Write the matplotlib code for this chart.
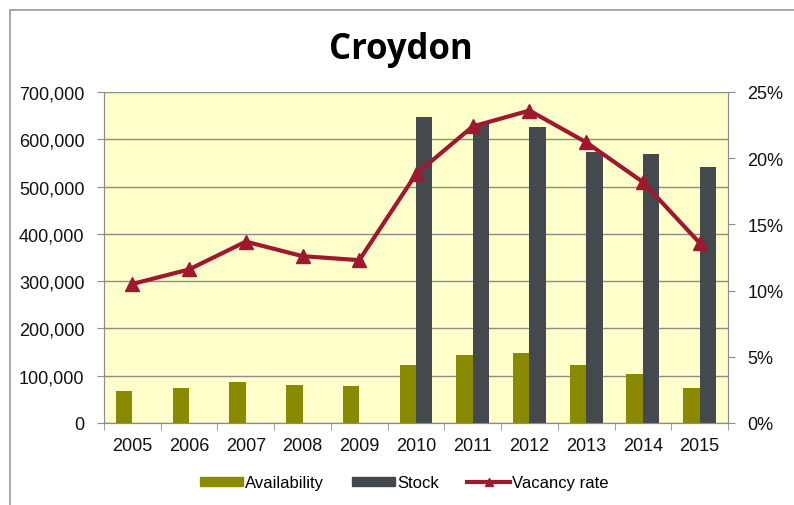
import matplotlib
matplotlib.use("Agg")
import matplotlib.pyplot as plt
from matplotlib.lines import Line2D
from matplotlib.patches import Patch, Rectangle
from matplotlib.ticker import FuncFormatter, MultipleLocator
import numpy as np

plt.rcParams['font.family'] = ['Liberation Sans', 'DejaVu Sans']

years = ['2005', '2006', '2007', '2008', '2009', '2010',
         '2011', '2012', '2013', '2014', '2015']
availability = [67000, 74000, 87000, 81000, 77500, 122500,
                144500, 148000, 122500, 103500, 74000]
stock = [np.nan, np.nan, np.nan, np.nan, np.nan, 648000,
         634000, 625500, 574000, 568000, 542000]
vacancy_rate = [10.5, 11.6, 13.7, 12.6, 12.3, 18.8,
                22.4, 23.6, 21.2, 18.2, 13.6]

c_avail = '#8a8a00'
c_stock = '#44494d'
c_line = '#a0182e'
c_grid = '#8c8c8c'
c_text = '#111111'

fig = plt.figure(figsize=(7.94, 5.06), dpi=100)
fig.patches.append(Rectangle((10 / 794, -0.1), 1.2, 1 - 11 / 506 + 0.1,
                             transform=fig.transFigure, fill=False,
                             edgecolor='#9a9a9a', linewidth=1.2))

ax = fig.add_axes([104 / 794, 82 / 506, 624 / 794, 331 / 506])
ax.set_facecolor('#ffffcc')

x = np.arange(len(years))
w = 0.29
ax.bar(x - w / 2, availability, w, color=c_avail, zorder=3)
ax.bar(x + w / 2, stock, w, color=c_stock, zorder=3)

ax.set_ylim(0, 700000)
ax.set_xlim(-0.5, len(years) - 0.5)
ax.yaxis.set_major_locator(MultipleLocator(100000))
ax.yaxis.set_major_formatter(FuncFormatter(lambda v, p: f'{int(v):,}'))
ax.grid(axis='y', color=c_grid, linewidth=1, zorder=1)
ax.set_xticks(x)
ax.set_xticklabels(years)
ax.set_xticks(np.arange(-0.5, len(years), 1), minor=True)
ax.tick_params(axis='x', which='major', length=0, pad=10, labelsize=13, colors=c_text)
ax.tick_params(axis='x', which='minor', length=5, color=c_grid, direction='out')
ax.tick_params(axis='y', length=5, color=c_grid, labelsize=13, labelcolor=c_text, pad=9)
for side in ['left', 'bottom', 'right']:
    ax.spines[side].set_color(c_grid)
ax.spines['top'].set_visible(False)

ax2 = ax.twinx()
ax2.plot(x, vacancy_rate, color=c_line, linewidth=3, marker='^',
         markersize=10, zorder=5)
ax2.set_ylim(0, 25)
ax2.yaxis.set_major_locator(MultipleLocator(5))
ax2.yaxis.set_major_formatter(FuncFormatter(lambda v, p: f'{int(v)}%'))
ax2.tick_params(axis='y', length=5, color=c_grid, labelsize=13, labelcolor=c_text, pad=9)
for side in ['left', 'bottom', 'right']:
    ax2.spines[side].set_color(c_grid)
ax2.spines['top'].set_visible(False)

fig.text(401 / 794, 1 - 59 / 506, 'Croydon', ha='center', va='baseline',
         fontsize=25, fontweight='bold', family=['Open Sans', 'DejaVu Sans'])

handles = [Patch(color=c_avail), Patch(color=c_stock),
           Line2D([], [], color=c_line, linewidth=3, marker='^', markersize=6)]
fig.legend(handles, ['Availability', 'Stock', 'Vacancy rate'],
           loc='center', bbox_to_anchor=(404 / 794, 1 - 484 / 506), ncol=3,
           frameon=False, fontsize=12, handlelength=2.6, handleheight=0.5,
           handletextpad=0.1, columnspacing=1.7)

fig.savefig('out.png', dpi=100)
